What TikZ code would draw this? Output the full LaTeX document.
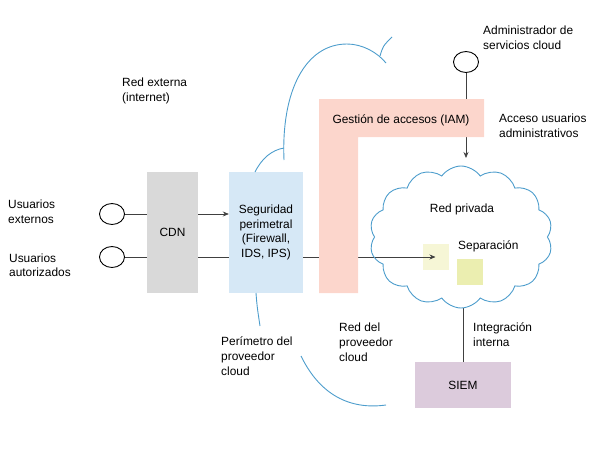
\documentclass[tikz,border=0pt]{standalone}
\usepackage{fontspec}
\setmainfont{Liberation Sans}
\usetikzlibrary{positioning,arrows.meta,shapes,backgrounds}

\definecolor{cdngray}{HTML}{D9D9D9}
\definecolor{segblue}{HTML}{D6E8F6}
\definecolor{iampink}{HTML}{FCD6CC}
\definecolor{siempurple}{HTML}{DCCBDC}
\definecolor{sepone}{HTML}{F6F6D6}
\definecolor{septwo}{HTML}{EBEEB0}
\definecolor{cloudblue}{HTML}{4D9DCC}

\begin{document}
\begin{tikzpicture}[
  x=1pt, y=-1pt,
  font=\fontsize{11.9}{14.6}\selectfont,
  box/.style={rectangle, inner sep=0pt, align=center},
  cdnbox/.style={box, fill=cdngray, minimum width=51pt, minimum height=121pt},
  segbox/.style={box, fill=segblue, minimum width=74pt, minimum height=121pt},
  siembox/.style={box, fill=siempurple, minimum width=96pt, minimum height=46pt},
  sepbox/.style={box, minimum width=26pt, minimum height=26pt},
  user/.style={ellipse, draw=black, line width=0.9pt,
               minimum width=25pt, minimum height=21pt, inner sep=0pt},
  lbl/.style={anchor=north west, align=left, inner sep=0pt},
  flow/.style={draw=black!75, line width=0.7pt},
  arrow/.style={flow, -{Stealth[length=6pt,width=5pt]}},
  perim/.style={draw=cloudblue, line width=0.9pt},
]
\useasboundingbox (0,0) rectangle (608,458);

% users and edge
\node[user] (u1) at (112,214) {};
\node[user] (u2) at (112,257) {};
\node[lbl] (u1txt) at (8,200) {Usuarios\\externos};
\node[lbl] (u2txt) at (9,253.5) {Usuarios\\autorizados};
\node[lbl] (rext) at (122,78) {Red externa\\(internet)};

\node[cdnbox] (cdn) at (172.5,232.5) {CDN};
\node[segbox] (seg) at (266,232.5) {Seguridad\\perimetral\\(Firewall,\\IDS, IPS)};

% IAM
\fill[iampink] (319,99) -- (484,99) -- (484,137) -- (358,137)
  -- (358,293) -- (319,293) -- cycle;
\node (iam) at (401,120) {Gesti\'on de accesos (IAM)};

\node[user] (adm) at (466,62) {};
\node[lbl] (admtxt) at (483,26) {Administrador de\\servicios cloud};
\node[lbl] (acctxt) at (499,114) {Acceso usuarios\\administrativos};
\coordinate (admin in) at (466,158);

% private network
\node[cloud, draw=cloudblue, line width=0.9pt, cloud puffs=14,
      cloud puff arc=110, aspect=1.29, minimum width=183pt,
      minimum height=142pt, inner sep=0pt] (priv) at (461,237) {};
\node (privtxt) at (462,209) {Red privada};
\node[lbl] (septxt) at (458,241) {Separaci\'on};

\node[siembox] (siem) at (463,385) {SIEM};
\node[lbl] (integ) at (473,323) {Integraci\'on\\interna};

% provider perimeter
\draw[perim] (284,160) .. controls (281,90) and (306,44) .. (347,44)
  .. controls (362,44) and (377,52) .. (386,63);
\draw[perim] (380,56) .. controls (383,46) .. (392,37);
\draw[perim] (255,172) .. controls (262,158) and (272,150) .. (284,148);
\draw[perim] (256,293) .. controls (257,306) .. (260,326);
\draw[perim] (301,356) .. controls (320,395) and (350,410) .. (386,405);
\node[lbl] (pertxt) at (221,337) {Per\'imetro del\\proveedor\\cloud};
\node[lbl] (provtxt) at (339,323) {Red del\\proveedor\\cloud};

\begin{scope}[on background layer]
  \node[sepbox, fill=sepone] (sq1) at (435.5,257) {};
  \node[sepbox, fill=septwo] (sq2) at (470,271.5) {};
  \draw[flow] (u1) -- (u1 -| cdn.west);
  \draw[arrow] (cdn.east |- u1) -- (seg.west |- u1);
  \draw[arrow] (u2) -- (sq1.center);
  \draw[arrow] (adm) -- (admin in);
  \draw[flow] (priv.south -| siem.north) -- (siem.north);
\end{scope}
\end{tikzpicture}
\end{document}
